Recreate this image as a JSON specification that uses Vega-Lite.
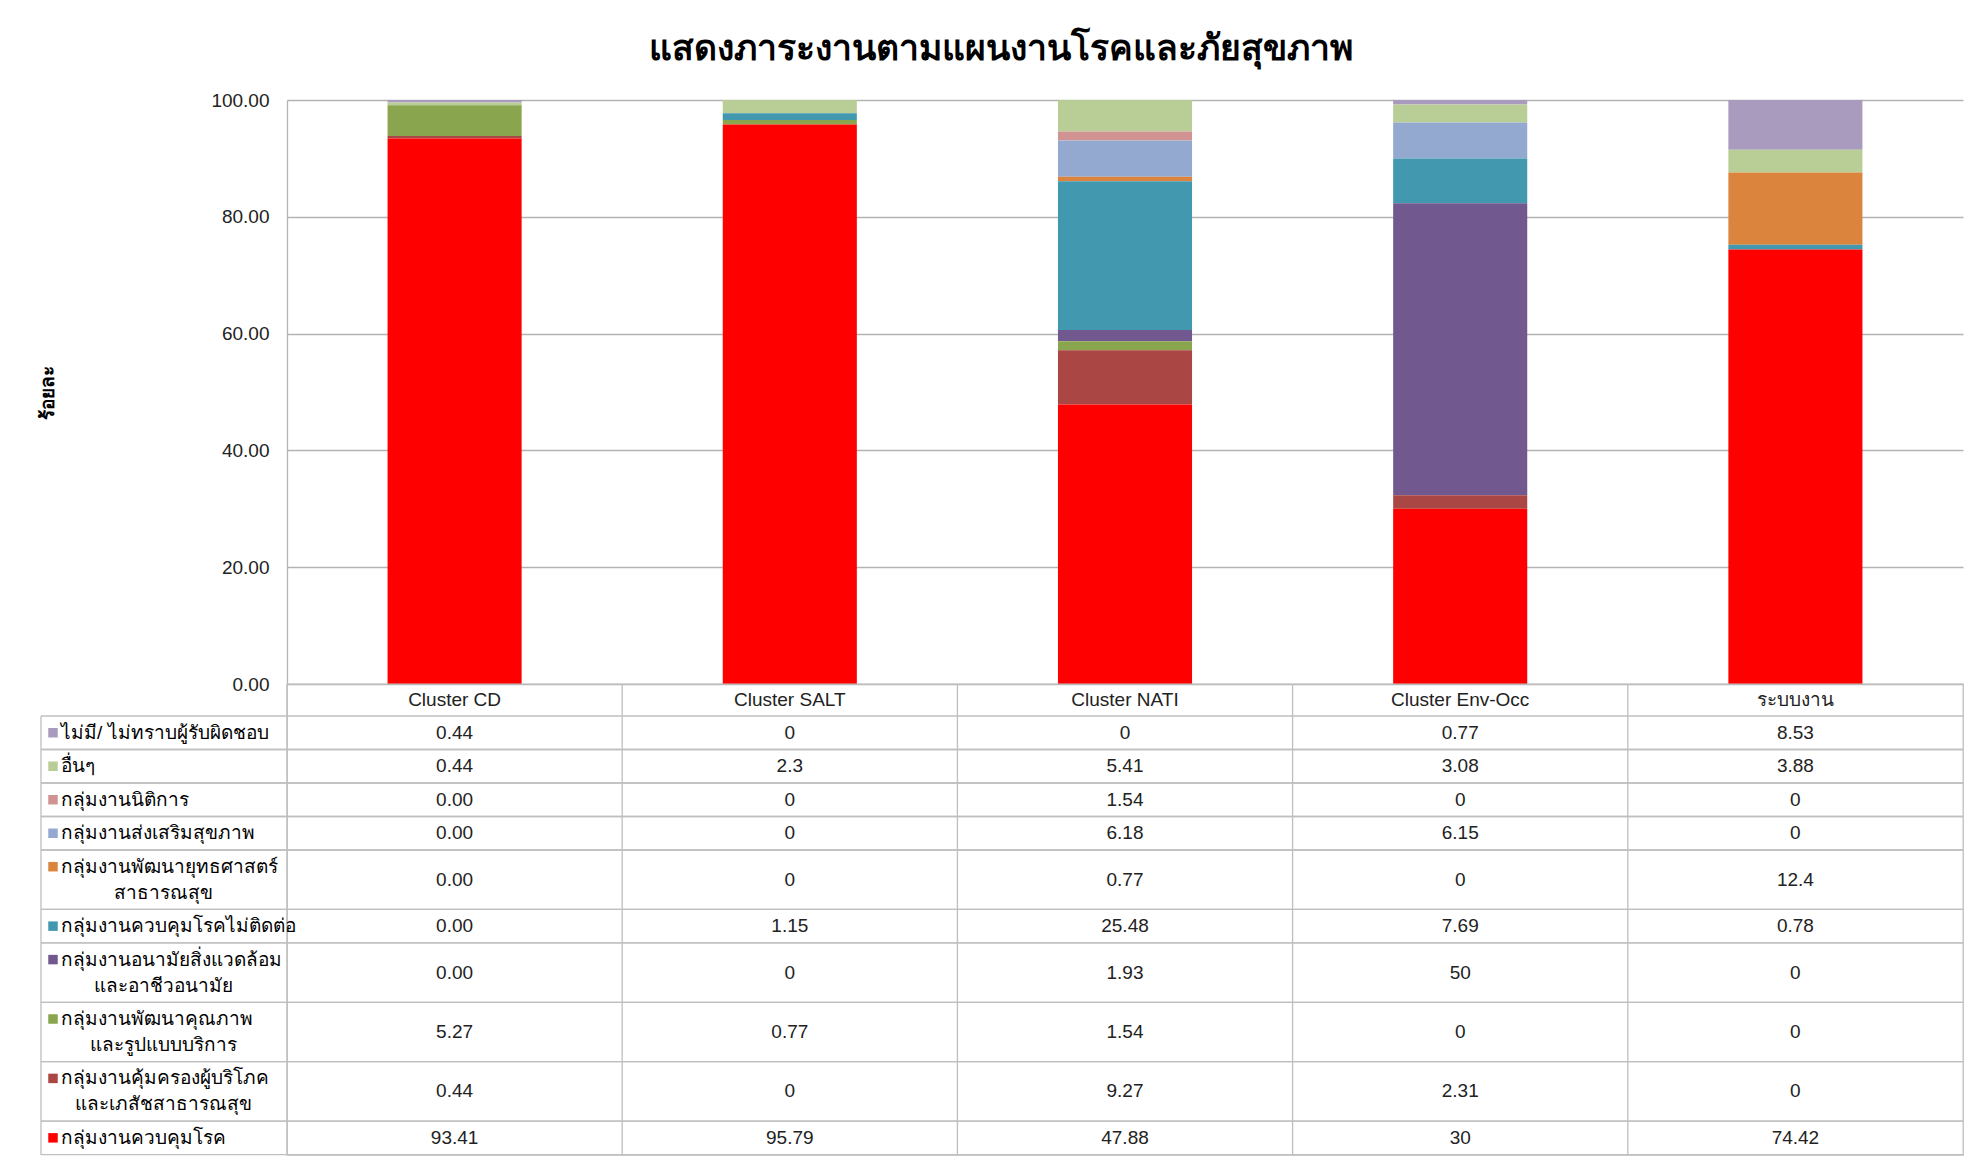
{
  "$schema": "https://vega.github.io/schema/vega-lite/v6.json",
  "background": "white",
  "padding": {"left": 38, "top": 31, "right": 20, "bottom": 4},
  "title": {
    "text": "แสดงภาระงานตามแผนงานโรคและภัยสุขภาพ",
    "fontSize": 35.5,
    "fontWeight": "bold",
    "color": "#000000",
    "anchor": "middle",
    "offset": 24
  },
  "datasets": {
    "load": [
      {"group": "ไม่มี/ ไม่ทราบผู้รับผิดชอบ", "Cluster CD": 0.44, "Cluster SALT": 0, "Cluster NATI": 0, "Cluster Env-Occ": 0.77, "ระบบงาน": 8.53},
      {"group": "อื่นๆ", "Cluster CD": 0.44, "Cluster SALT": 2.3, "Cluster NATI": 5.41, "Cluster Env-Occ": 3.08, "ระบบงาน": 3.88},
      {"group": "กลุ่มงานนิติการ", "Cluster CD": 0.00, "Cluster SALT": 0, "Cluster NATI": 1.54, "Cluster Env-Occ": 0, "ระบบงาน": 0},
      {"group": "กลุ่มงานส่งเสริมสุขภาพ", "Cluster CD": 0.00, "Cluster SALT": 0, "Cluster NATI": 6.18, "Cluster Env-Occ": 6.15, "ระบบงาน": 0},
      {"group": "กลุ่มงานพัฒนายุทธศาสตร์\nสาธารณสุข", "Cluster CD": 0.00, "Cluster SALT": 0, "Cluster NATI": 0.77, "Cluster Env-Occ": 0, "ระบบงาน": 12.4},
      {"group": "กลุ่มงานควบคุมโรคไม่ติดต่อ", "Cluster CD": 0.00, "Cluster SALT": 1.15, "Cluster NATI": 25.48, "Cluster Env-Occ": 7.69, "ระบบงาน": 0.78},
      {"group": "กลุ่มงานอนามัยสิ่งแวดล้อม\nและอาชีวอนามัย", "Cluster CD": 0.00, "Cluster SALT": 0, "Cluster NATI": 1.93, "Cluster Env-Occ": 50, "ระบบงาน": 0},
      {"group": "กลุ่มงานพัฒนาคุณภาพ\nและรูปแบบบริการ", "Cluster CD": 5.27, "Cluster SALT": 0.77, "Cluster NATI": 1.54, "Cluster Env-Occ": 0, "ระบบงาน": 0},
      {"group": "กลุ่มงานคุ้มครองผู้บริโภค\nและเภสัชสาธารณสุข", "Cluster CD": 0.44, "Cluster SALT": 0, "Cluster NATI": 9.27, "Cluster Env-Occ": 2.31, "ระบบงาน": 0},
      {"group": "กลุ่มงานควบคุมโรค", "Cluster CD": 93.41, "Cluster SALT": 95.79, "Cluster NATI": 47.88, "Cluster Env-Occ": 30, "ระบบงาน": 74.42}
    ]
  },
  "bounds": "flush",
  "spacing": 0,
  "resolve": {"scale": {"x": "independent", "y": "independent", "color": "independent"}},
  "vconcat": [
    {
      "width": 1676,
      "height": 584,
      "view": {"stroke": null},
      "data": {"name": "load"},
      "transform": [
        {"window": [{"op": "row_number", "as": "idx"}]},
        {"fold": ["Cluster CD", "Cluster SALT", "Cluster NATI", "Cluster Env-Occ", "ระบบงาน"], "as": ["cluster", "v"]}
      ],
      "mark": {"type": "bar"},
      "encoding": {
        "x": {
          "field": "cluster",
          "type": "nominal",
          "sort": ["Cluster CD", "Cluster SALT", "Cluster NATI", "Cluster Env-Occ", "ระบบงาน"],
          "scale": {"paddingInner": 0.6, "paddingOuter": 0.3},
          "axis": null
        },
        "y": {
          "field": "v",
          "type": "quantitative",
          "stack": "zero",
          "scale": {"domain": [0, 100], "nice": false, "clamp": true},
          "axis": {
            "title": "ร้อยละ",
            "values": [0, 20, 40, 60, 80, 100],
            "format": ".2f",
            "grid": true,
            "gridColor": "#b3b3b3",
            "gridWidth": 1.3,
            "ticks": false,
            "domain": true,
            "domainColor": "#b3b3b3",
            "domainWidth": 1.3,
            "labelPadding": 18,
            "labelFontSize": 19,
            "labelFont": "Liberation Sans Narrow, Liberation Sans, sans-serif",
            "labelColor": "#222222",
            "titleFontSize": 19,
            "titleFontWeight": "bold",
            "titleColor": "#000000",
            "titleAngle": 270,
            "titleX": -240,
            "titleY": 292,
            "titleAlign": "center",
            "titleBaseline": "middle"
          }
        },
        "color": {
          "field": "group",
          "type": "nominal",
          "legend": null,
          "scale": {
            "domain": ["ไม่มี/ ไม่ทราบผู้รับผิดชอบ", "อื่นๆ", "กลุ่มงานนิติการ", "กลุ่มงานส่งเสริมสุขภาพ", "กลุ่มงานพัฒนายุทธศาสตร์\nสาธารณสุข", "กลุ่มงานควบคุมโรคไม่ติดต่อ", "กลุ่มงานอนามัยสิ่งแวดล้อม\nและอาชีวอนามัย", "กลุ่มงานพัฒนาคุณภาพ\nและรูปแบบบริการ", "กลุ่มงานคุ้มครองผู้บริโภค\nและเภสัชสาธารณสุข", "กลุ่มงานควบคุมโรค"],
            "range": ["#a99bbd", "#b9cd96", "#d19392", "#93a9cf", "#db843d", "#4198af", "#71588f", "#89a54e", "#aa4643", "#ff0000"]
          }
        },
        "order": {"field": "idx", "type": "quantitative", "sort": "descending"}
      }
    },
    {
      "width": 1676,
      "height": 471,
      "view": {"stroke": "#bfbfbf", "strokeWidth": 1.3},
      "data": {"name": "load"},
      "transform": [
        {"window": [{"op": "row_number", "as": "idx"}]},
        {"calculate": "length(split(datum.group, '\\n'))", "as": "lines"},
        {"calculate": "7.6 + 25.9 * datum.lines", "as": "h"},
        {"window": [{"op": "sum", "field": "h", "as": "cum"}], "sort": [{"field": "idx"}]},
        {"calculate": "32 + datum.cum", "as": "bottom"},
        {"calculate": "datum.bottom - datum.h", "as": "top"},
        {"calculate": "(datum.top + datum.bottom) / 2", "as": "mid"},
        {"calculate": "datum.lines == 2 ? datum.mid - 13 : datum.mid", "as": "l1"},
        {"calculate": "datum.mid + 13", "as": "l2"},
        {"calculate": "split(datum.group, '\\n')[0]", "as": "line1"},
        {"calculate": "datum.lines == 2 ? split(datum.group, '\\n')[1] : ''", "as": "line2"}
      ],
      "layer": [
        {
          "mark": {"type": "rule", "color": "#bfbfbf", "strokeWidth": 1.3},
          "encoding": {
            "x": {"value": -246},
            "x2": {"value": 1676},
            "y": {"field": "top", "type": "quantitative", "scale": {"domain": [0, 471], "reverse": true, "nice": false, "zero": false}, "axis": null}
          }
        },
        {
          "mark": {"type": "rule", "color": "#bfbfbf", "strokeWidth": 1.3},
          "encoding": {
            "x": {"value": -246},
            "x2": {"value": 1676},
            "y": {"field": "bottom", "type": "quantitative", "scale": {"domain": [0, 471], "reverse": true, "nice": false, "zero": false}, "axis": null}
          }
        },
        {
          "transform": [{"filter": "datum.idx == 1"}],
          "mark": {"type": "rule", "color": "#bfbfbf", "strokeWidth": 1.3},
          "encoding": {
            "x": {"value": -246},
            "y": {"datum": 32, "type": "quantitative", "scale": {"domain": [0, 471], "reverse": true, "nice": false, "zero": false}, "axis": null},
            "y2": {"datum": 471}
          }
        },
        {
          "transform": [
            {"filter": "datum.idx == 1"},
            {"fold": ["Cluster CD", "Cluster SALT", "Cluster NATI", "Cluster Env-Occ", "ระบบงาน"], "as": ["cluster", "v"]}
          ],
          "mark": {"type": "rule", "color": "#bfbfbf", "strokeWidth": 1.3},
          "encoding": {
            "x": {"field": "cluster", "type": "nominal", "bandPosition": 0, "sort": ["Cluster CD", "Cluster SALT", "Cluster NATI", "Cluster Env-Occ", "ระบบงาน"], "scale": {"paddingInner": 0, "paddingOuter": 0}, "axis": null},
            "y": {"datum": 0, "type": "quantitative", "scale": {"domain": [0, 471], "reverse": true, "nice": false, "zero": false}, "axis": null},
            "y2": {"datum": 471}
          }
        },
        {
          "transform": [
            {"filter": "datum.idx == 1"},
            {"fold": ["Cluster CD", "Cluster SALT", "Cluster NATI", "Cluster Env-Occ", "ระบบงาน"], "as": ["cluster", "v"]}
          ],
          "mark": {"type": "text", "fontSize": 19, "font": "Liberation Sans Narrow, Liberation Sans, sans-serif", "color": "#222222", "baseline": "middle", "align": "center"},
          "encoding": {
            "x": {"field": "cluster", "type": "nominal", "sort": ["Cluster CD", "Cluster SALT", "Cluster NATI", "Cluster Env-Occ", "ระบบงาน"], "scale": {"paddingInner": 0, "paddingOuter": 0}, "axis": null},
            "y": {"datum": 16, "type": "quantitative", "scale": {"domain": [0, 471], "reverse": true, "nice": false, "zero": false}, "axis": null},
            "text": {"field": "cluster"}
          }
        },
        {
          "transform": [
            {"fold": ["Cluster CD", "Cluster SALT", "Cluster NATI", "Cluster Env-Occ", "ระบบงาน"], "as": ["cluster", "v"]},
            {"calculate": "datum.cluster == 'Cluster CD' ? format(datum.v, '.2f') : '' + datum.v", "as": "shown"}
          ],
          "mark": {"type": "text", "fontSize": 19, "font": "Liberation Sans Narrow, Liberation Sans, sans-serif", "color": "#222222", "baseline": "middle", "align": "center"},
          "encoding": {
            "x": {"field": "cluster", "type": "nominal", "sort": ["Cluster CD", "Cluster SALT", "Cluster NATI", "Cluster Env-Occ", "ระบบงาน"], "scale": {"paddingInner": 0, "paddingOuter": 0}, "axis": null},
            "y": {"field": "mid", "type": "quantitative", "scale": {"domain": [0, 471], "reverse": true, "nice": false, "zero": false}, "axis": null},
            "text": {"field": "shown"}
          }
        },
        {
          "mark": {"type": "square", "filled": true, "size": 90, "opacity": 1},
          "encoding": {
            "x": {"value": -234},
            "y": {"field": "l1", "type": "quantitative", "scale": {"domain": [0, 471], "reverse": true, "nice": false, "zero": false}, "axis": null},
            "color": {
              "field": "group",
              "type": "nominal",
              "legend": null,
              "scale": {
                "domain": ["ไม่มี/ ไม่ทราบผู้รับผิดชอบ", "อื่นๆ", "กลุ่มงานนิติการ", "กลุ่มงานส่งเสริมสุขภาพ", "กลุ่มงานพัฒนายุทธศาสตร์\nสาธารณสุข", "กลุ่มงานควบคุมโรคไม่ติดต่อ", "กลุ่มงานอนามัยสิ่งแวดล้อม\nและอาชีวอนามัย", "กลุ่มงานพัฒนาคุณภาพ\nและรูปแบบบริการ", "กลุ่มงานคุ้มครองผู้บริโภค\nและเภสัชสาธารณสุข", "กลุ่มงานควบคุมโรค"],
                "range": ["#a99bbd", "#b9cd96", "#d19392", "#93a9cf", "#db843d", "#4198af", "#71588f", "#89a54e", "#aa4643", "#ff0000"]
              }
            }
          }
        },
        {
          "mark": {"type": "text", "fontSize": 19, "color": "#000000", "baseline": "middle", "align": "left"},
          "encoding": {
            "x": {"value": -226},
            "y": {"field": "l1", "type": "quantitative", "scale": {"domain": [0, 471], "reverse": true, "nice": false, "zero": false}, "axis": null},
            "text": {"field": "line1"}
          }
        },
        {
          "transform": [{"filter": "datum.lines == 2"}],
          "mark": {"type": "text", "fontSize": 19, "color": "#000000", "baseline": "middle", "align": "center"},
          "encoding": {
            "x": {"value": -124},
            "y": {"field": "l2", "type": "quantitative", "scale": {"domain": [0, 471], "reverse": true, "nice": false, "zero": false}, "axis": null},
            "text": {"field": "line2"}
          }
        }
      ]
    }
  ]
}
